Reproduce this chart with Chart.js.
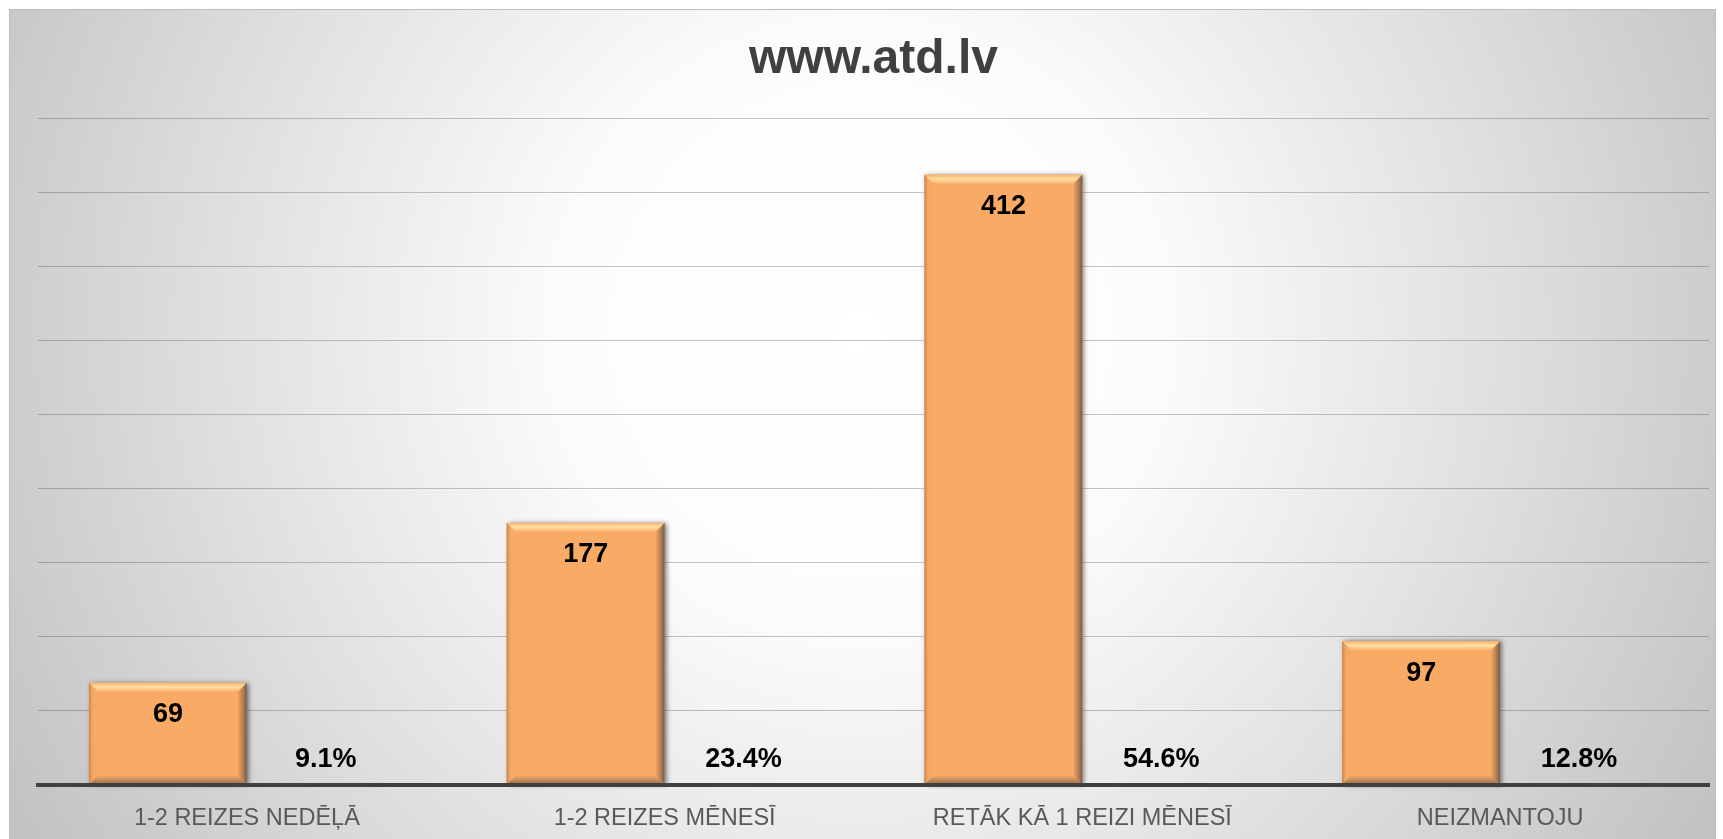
<!DOCTYPE html>
<html>
<head>
<meta charset="utf-8">
<script src="https://cdn.jsdelivr.net/npm/chart.js@4"></script>
<style>
html,body{margin:0;padding:0;background:#fff;}
#wrap{width:1723px;height:839px;position:relative;}
</style>
</head>
<body>
<div id="wrap"><canvas id="c" width="1723" height="839"></canvas></div>
<script>
const titleText = 'www.atd.lv';
const categories = ['1-2 REIZES NEDĒĻĀ', '1-2 REIZES MĒNESĪ', 'RETĀK KĀ 1 REIZI MĒNESĪ', 'NEIZMANTOJU'];
const counts = [69, 177, 412, 97];
const percents = [9.1, 23.4, 54.6, 12.8];
const yMax = 450;
const yStep = 50;

const BAR = '#F9AB66';
const FONT = "'Liberation Sans', Arial, sans-serif";

const bgPlugin = {
  id: 'bg',
  beforeDraw(chart) {
    const ctx = chart.ctx;
    const W = chart.width, H = chart.height;
    ctx.save();
    ctx.fillStyle = '#ffffff';
    ctx.fillRect(0, 0, W, H);
    const x0 = 9, y0 = 9, x1 = 1716, y1 = H + 2;
    const g = ctx.createRadialGradient(860, 330, 0, 860, 330, 980);
    g.addColorStop(0, '#ffffff');
    g.addColorStop(0.3, '#fcfcfc');
    g.addColorStop(0.6, '#e4e4e4');
    g.addColorStop(1, '#c2c2c2');
    ctx.fillStyle = g;
    ctx.fillRect(x0, y0, x1 - x0, y1 - y0);
    ctx.strokeStyle = '#bdbdbd';
    ctx.lineWidth = 1;
    ctx.strokeRect(x0 + 0.5, y0 + 0.5, x1 - x0 - 1, y1 - y0);
    ctx.restore();
  }
};

const barDeco = {
  id: 'barDeco',
  beforeDatasetsDraw(chart) {
    const ctx = chart.ctx;
    const meta = chart.getDatasetMeta(0);
    ctx.save();
    meta.data.forEach(el => {
      const L = el.x - el.width / 2, R = el.x + el.width / 2, T = el.y, B = el.base;
      ctx.shadowColor = 'rgba(0,0,0,0.55)';
      ctx.shadowBlur = 5;
      ctx.shadowOffsetX = 2;
      ctx.shadowOffsetY = 0;
      ctx.fillStyle = BAR;
      ctx.fillRect(L, T, R - L, B - T);
    });
    ctx.restore();
  },
  afterDatasetsDraw(chart) {
    const ctx = chart.ctx;
    const meta = chart.getDatasetMeta(0);
    const b = 9;
    ctx.save();
    meta.data.forEach(el => {
      const L = el.x - el.width / 2, R = el.x + el.width / 2, T = el.y, B = el.base;
      let g = ctx.createLinearGradient(0, T, 0, T + b);
      g.addColorStop(0, 'rgba(250,178,108,1)');
      g.addColorStop(0.45, 'rgba(254,224,162,1)');
      g.addColorStop(1, 'rgba(249,178,112,1)');
      ctx.fillStyle = g;
      ctx.beginPath();
      ctx.moveTo(L, T); ctx.lineTo(R, T); ctx.lineTo(R - b, T + b); ctx.lineTo(L + b, T + b); ctx.closePath();
      ctx.fill();
      g = ctx.createLinearGradient(L, 0, L + b, 0);
      g.addColorStop(0, 'rgba(200,135,80,1)');
      g.addColorStop(0.4, 'rgba(245,168,100,1)');
      g.addColorStop(1, 'rgba(249,171,102,1)');
      ctx.fillStyle = g;
      ctx.beginPath();
      ctx.moveTo(L, T); ctx.lineTo(L + b, T + b); ctx.lineTo(L + b, B - b); ctx.lineTo(L, B); ctx.closePath();
      ctx.fill();
      g = ctx.createLinearGradient(R - b, 0, R, 0);
      g.addColorStop(0, 'rgba(240,165,100,1)');
      g.addColorStop(0.5, 'rgba(190,130,85,1)');
      g.addColorStop(1, 'rgba(110,95,85,1)');
      ctx.fillStyle = g;
      ctx.beginPath();
      ctx.moveTo(R, T); ctx.lineTo(R, B); ctx.lineTo(R - b, B - b); ctx.lineTo(R - b, T + b); ctx.closePath();
      ctx.fill();
      g = ctx.createLinearGradient(0, B - b, 0, B);
      g.addColorStop(0, 'rgba(244,168,100,1)');
      g.addColorStop(0.5, 'rgba(200,140,90,1)');
      g.addColorStop(1, 'rgba(140,105,80,1)');
      ctx.fillStyle = g;
      ctx.beginPath();
      ctx.moveTo(L, B); ctx.lineTo(R, B); ctx.lineTo(R - b, B - b); ctx.lineTo(L + b, B - b); ctx.closePath();
      ctx.fill();
    });
    ctx.fillStyle = '#404040';
    ctx.fillRect(chart.chartArea.left, chart.chartArea.bottom - 2, chart.chartArea.right - chart.chartArea.left, 4);

    ctx.fillStyle = '#000';
    ctx.font = 'bold 27px ' + FONT;
    ctx.textAlign = 'center';
    ctx.textBaseline = 'middle';
    meta.data.forEach((el, i) => {
      ctx.fillText(String(counts[i]), el.x, el.y + 32);
    });
    const meta2 = chart.getDatasetMeta(1);
    meta2.data.forEach((el, i) => {
      ctx.fillText(percents[i].toFixed(1) + '%', el.x, el.base - 24.5);
    });
    ctx.restore();
  }
};

new Chart(document.getElementById('c'), {
  type: 'bar',
  data: {
    labels: categories,
    datasets: [
      { label: 'Skaits', data: counts, backgroundColor: BAR, borderWidth: 0 },
      { label: '%', data: percents, backgroundColor: 'rgba(0,0,0,0)', borderWidth: 0 }
    ]
  },
  options: {
    responsive: false,
    animation: false,
    events: [],
    categoryPercentage: 0.756,
    barPercentage: 1.0,
    layout: { padding: { left: 38, right: 14, top: 0, bottom: 6 } },
    plugins: {
      legend: { display: false },
      tooltip: { enabled: false },
      title: {
        display: true,
        text: titleText,
        color: '#404040',
        font: { family: FONT, size: 48, weight: 'bold', lineHeight: 1.2 },
        padding: { top: 31, bottom: 30 }
      }
    },
    scales: {
      y: {
        min: 0, max: yMax,
        ticks: { display: false, stepSize: yStep },
        grid: { color: 'rgba(0,0,0,0.22)', lineWidth: 1, drawTicks: false },
        border: { display: false }
      },
      x: {
        afterFit: (scale) => { scale.height = 48; },
        grid: { display: false, drawTicks: false },
        border: { display: true, color: '#404040', width: 4 },
        ticks: { color: '#595959', padding: 19, font: { family: FONT, size: 23.5 } }
      }
    }
  },
  plugins: [bgPlugin, barDeco]
});
</script>
</body>
</html>
